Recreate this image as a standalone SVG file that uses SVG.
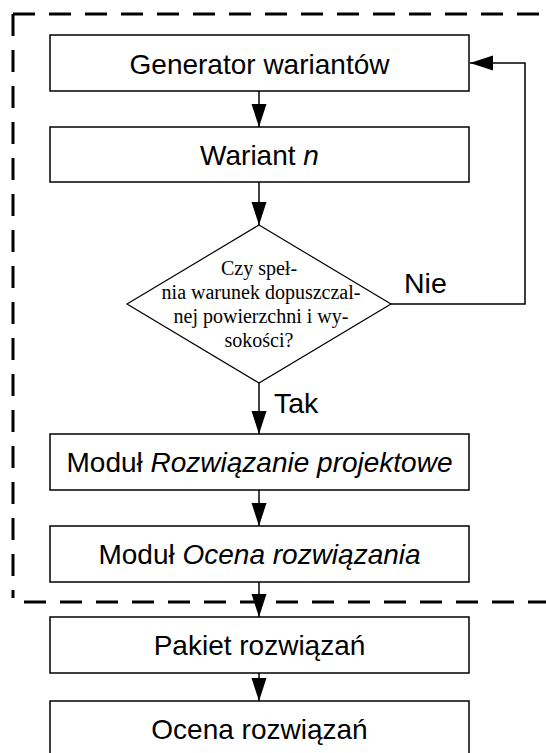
<svg xmlns="http://www.w3.org/2000/svg" width="546" height="753" viewBox="0 0 546 753">
<style>
.box{fill:#fff;stroke:#000;stroke-width:1.5}
.dia{fill:#fff;stroke:#000;stroke-width:1.2}
.t{font-family:"Liberation Sans",Arial,sans-serif;font-size:28px;fill:#000;text-anchor:middle}
.lbl{font-family:"Liberation Sans",Arial,sans-serif;font-size:28.5px;fill:#000}
.s{font-family:"Liberation Serif","Times New Roman",serif;font-size:20px;fill:#000;text-anchor:middle}
.c{fill:none;stroke:#000;stroke-width:1.5}
.dash{fill:none;stroke:#000;stroke-width:3;stroke-dasharray:22 14}
</style>
<defs>
<marker id="ah" markerUnits="userSpaceOnUse" markerWidth="24" markerHeight="16" refX="23" refY="8" orient="auto">
<path d="M0,0.5 L23,8 L0,15.5 Z" fill="#000"/>
</marker>
</defs>
<rect width="546" height="753" fill="#fff"/>
<path class="dash" d="M13,14 H560 M13,14 V598 M24,602 H560"/>
<g id="connectors">
<path class="c" d="M259,91 V127" marker-end="url(#ah)"/>
<path class="c" d="M259,182 V225" marker-end="url(#ah)"/>
<path class="c" d="M259,383 V434" marker-end="url(#ah)"/>
<path class="c" d="M259,490 V526" marker-end="url(#ah)"/>
<path class="c" d="M259,582 V617" marker-end="url(#ah)"/>
<path class="c" d="M259,673 V701" marker-end="url(#ah)"/>
<path class="c" d="M391,304 H525 V63 H470" marker-end="url(#ah)"/>
<text class="lbl" x="404" y="293">Nie</text>
<text class="lbl" x="274" y="413">Tak</text>
</g>
<g id="generator">
<rect class="box" x="50" y="35" width="419" height="56"/>
<text class="t" x="259.5" y="74" font-size="29.5">Generator wariantów</text>
</g>
<g id="wariant">
<rect class="box" x="50" y="127" width="419" height="55"/>
<text class="t" x="259.5" y="165" font-size="29">Wariant <tspan font-style="italic">n</tspan></text>
</g>
<g id="decyzja">
<polygon class="dia" points="259,225 391,304 259,383 127,304"/>
<text class="s" x="259" y="275">Czy speł-</text>
<text class="s" x="261" y="299">nia warunek dopuszczal-</text>
<text class="s" x="261" y="323">nej powierzchni i wy-</text>
<text class="s" x="259" y="347">sokości?</text>
</g>
<g id="rozwiazanie">
<rect class="box" x="50" y="434" width="419" height="56"/>
<text class="t" x="259.5" y="471.5" font-size="26.3">Moduł <tspan font-style="italic">Rozwiązanie projektowe</tspan></text>
</g>
<g id="ocena-modul">
<rect class="box" x="50" y="526" width="419" height="56"/>
<text class="t" x="259.5" y="563.5" font-size="26.3">Moduł <tspan font-style="italic">Ocena rozwiązania</tspan></text>
</g>
<g id="pakiet">
<rect class="box" x="50" y="617" width="419" height="56"/>
<text class="t" x="259.5" y="655" font-size="28.5">Pakiet rozwiązań</text>
</g>
<g id="ocena">
<rect class="box" x="50" y="701" width="419" height="56"/>
<text class="t" x="259.5" y="739" font-size="28.5">Ocena rozwiązań</text>
</g>
</svg>
